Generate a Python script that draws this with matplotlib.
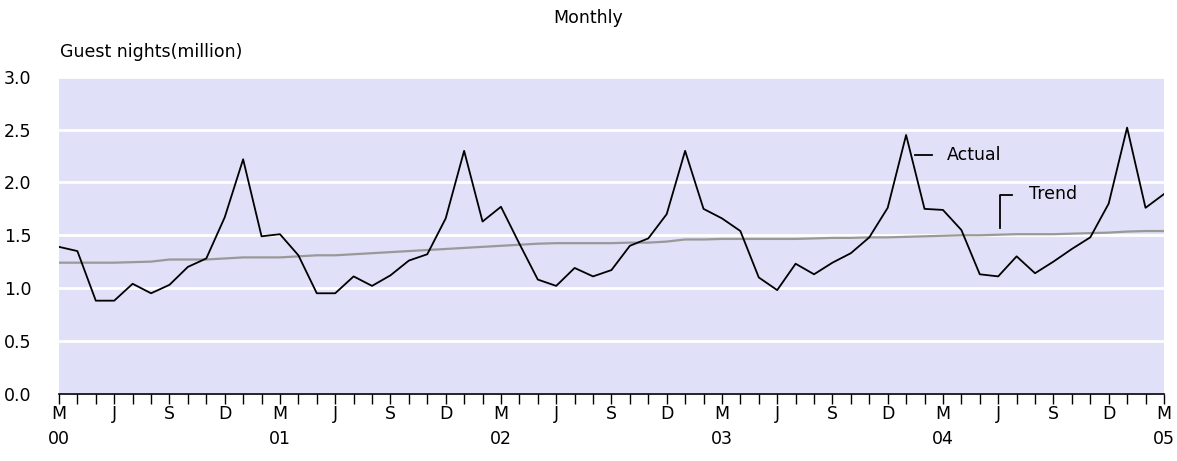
import numpy as np
import matplotlib
matplotlib.use('Agg')
import matplotlib.pyplot as plt

# monthly guest nights, March 2000 to March 2005 (million)
actual = [1.39, 1.35, 0.88, 0.88, 1.04, 0.95, 1.03, 1.20, 1.28, 1.67,
          2.22, 1.49, 1.51, 1.31, 0.95, 0.95, 1.11, 1.02, 1.12, 1.26, 1.32, 1.66,
          2.30, 1.63, 1.77, 1.42, 1.08, 1.02, 1.19, 1.11, 1.17, 1.40, 1.47, 1.70,
          2.30, 1.75, 1.66, 1.54, 1.10, 0.98, 1.23, 1.13, 1.24, 1.33, 1.48, 1.76,
          2.45, 1.75, 1.74, 1.55, 1.13, 1.11, 1.30, 1.14, 1.25, 1.37, 1.48, 1.80,
          2.52, 1.76, 1.89]
trend = [1.24, 1.24, 1.24, 1.24, 1.245, 1.25, 1.27, 1.27, 1.27, 1.28,
         1.29, 1.29, 1.29, 1.30, 1.31, 1.31, 1.32, 1.33, 1.34, 1.35, 1.36, 1.37,
         1.38, 1.39, 1.40, 1.41, 1.42, 1.425, 1.425, 1.425, 1.425, 1.43, 1.43, 1.44,
         1.46, 1.46, 1.465, 1.465, 1.465, 1.465, 1.465, 1.47, 1.475, 1.475, 1.48, 1.48,
         1.485, 1.49, 1.495, 1.50, 1.50, 1.505, 1.51, 1.51, 1.51, 1.515, 1.52, 1.525,
         1.535, 1.54, 1.54]
month_letters = ['M', 'J', 'S', 'D']
years = ['00', '01', '02', '03', '04', '05']
y_ticks = [0.0, 0.5, 1.0, 1.5, 2.0, 2.5, 3.0]

FONT = 'DejaVu Sans'
FS = 12.5

months = np.arange(len(actual))

fig = plt.figure(figsize=(11.77, 4.61), dpi=100)
ax = fig.add_axes([0.0501, 0.1464, 0.9388, 0.6866])
ax.set_facecolor('#e0e0f8')

for y in y_ticks:
    ax.axhline(y, color='white', lw=2, zorder=1)

ax.plot(months, trend, color='#999999', lw=1.6, zorder=2)
ax.plot(months, actual, color='black', lw=1.3, zorder=3)

ax.set_xlim(0, len(actual) - 1)
ax.set_ylim(0, 3.0)

# x ticks: every month, labelled every quarter
ax.set_xticks(months)
labels = []
for i in months:
    if i % 3 == 0:
        lab = month_letters[(i // 3) % 4]
        if i % 12 == 0:
            lab += '\n' + years[i // 12]
        labels.append(lab)
    else:
        labels.append('')
ax.set_xticklabels(labels, fontsize=FS, family=FONT, linespacing=1.55, va='top')
ax.tick_params(axis='x', direction='out', length=7, width=1, pad=1, color='black')

ax.set_yticks(y_ticks)
ax.set_yticklabels(['%.1f' % v for v in y_ticks], fontsize=FS, family=FONT)
ax.tick_params(axis='y', length=0, pad=20)

for s in ['top', 'right', 'left']:
    ax.spines[s].set_visible(False)
ax.spines['bottom'].set_color('black')
ax.spines['bottom'].set_linewidth(1.2)

# inline labels
ax.plot([46.5, 47.4], [2.26, 2.26], color='black', lw=1.3)
ax.text(48.2, 2.26, 'Actual', fontsize=FS, family=FONT, va='center', ha='left')
ax.plot([51.1, 51.1, 51.75], [1.57, 1.88, 1.88], color='black', lw=1.3)
ax.text(52.7, 1.89, 'Trend', fontsize=FS, family=FONT, va='center', ha='left')

fig.text(0.5, 0.961, 'Monthly', fontsize=FS, family=FONT, ha='center', va='center')
fig.text(0.051, 0.887, 'Guest nights(million)', fontsize=FS, family=FONT,
         ha='left', va='center')

fig.savefig('out.png', dpi=100)
